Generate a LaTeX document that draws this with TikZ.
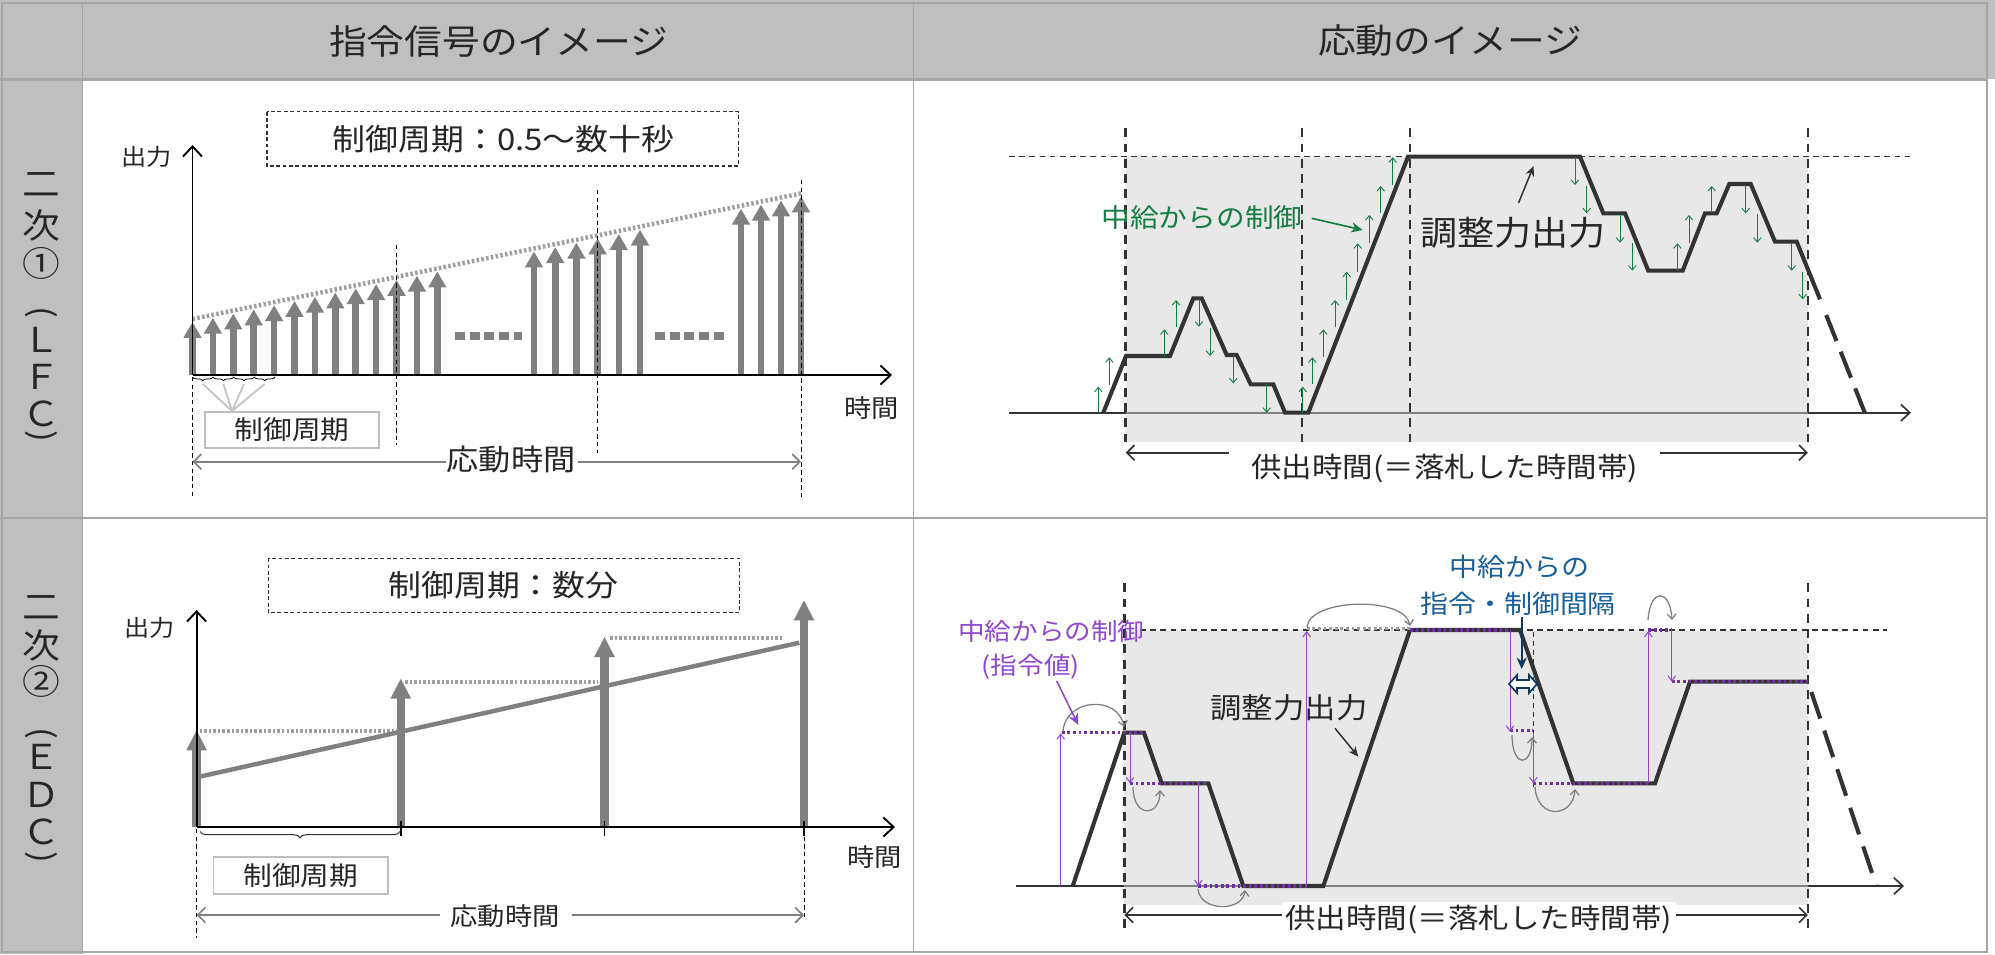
\documentclass[tikz,border=0pt]{standalone}
\usepackage{fontspec}
\setmainfont[FakeStretch=1.1]{Noto Sans CJK JP}
\usetikzlibrary{arrows.meta,decorations.pathreplacing}
\definecolor{hdr}{HTML}{BFBFBF}
\definecolor{gridc}{HTML}{A6A6A6}
\definecolor{agray}{HTML}{808080}
\definecolor{dgray}{HTML}{A0A0A0}
\definecolor{shadec}{HTML}{E8E8E8}
\definecolor{ink}{HTML}{333333}
\definecolor{txt}{HTML}{262626}
\definecolor{ggreen}{RGB}{20,125,65}
\definecolor{ppurple}{RGB}{145,70,210}
\definecolor{dpurple}{RGB}{112,48,160}
\definecolor{bblue}{RGB}{25,95,155}
\definecolor{navyc}{RGB}{15,55,95}
\newcommand{\fsz}[1]{\fontsize{#1}{#1}\selectfont}
\begin{document}
\begin{tikzpicture}[x=0.785965pt,y=-0.785965pt,
  lbl/.style={inner sep=0pt,text=txt},
  dbox/.style={draw=ink,line width=0.8pt,dash pattern=on 3pt off 2pt},
  cbox/.style={draw=hdr,line width=1.3pt},
  axis/.style={black,line width=1.5pt,-{Straight Barb[width=15pt,length=8pt]}},
  sigarrow/.style={agray,line width=5.2pt,-{Triangle[width=13.5pt,length=12.5pt]}},
  bigarrow/.style={agray,line width=6.5pt,-{Triangle[width=15pt,length=16pt]}},
  thinvdash/.style={black,line width=0.8pt,dash pattern=on 3.5pt off 2.5pt},
  vdash/.style={ink,line width=2pt,dash pattern=on 7pt off 5pt},
  hdash/.style={ink,line width=1.1pt,dash pattern=on 4.5pt off 3.5pt},
  outl/.style={ink,line width=3.2pt,line join=miter},
  garr/.style={ggreen,line width=0.7pt,-{Straight Barb[width=6pt,length=3.5pt]}},
  parr/.style={ppurple,line width=0.8pt,-{Straight Barb[width=6pt,length=4pt]}},
  pdot/.style={dpurple,line width=2.4pt,dash pattern=on 2.2pt off 2.2pt},
  carr/.style={agray,line width=1pt,-{Straight Barb[width=7pt,length=4pt]}},
  spanarr/.style={line width=1.3pt,-{Straight Barb[width=12pt,length=6pt]}}]
\useasboundingbox (0,0) rectangle (1995,954);
\fill[white] (0,0) rectangle (1995,954);
% ---------- table ----------
\fill[hdr] (0,0) rectangle (1995,79.4);
\fill[hdr] (0,79.4) rectangle (82.7,954);
\draw[gridc,line width=1.6pt] (2,3) rectangle (1987,952);
\draw[gridc,line width=1.8pt] (0,79.4) -- (1987,79.4);
\draw[gridc,line width=1.6pt] (0,518.3) -- (1987,518.3);
\draw[gridc,line width=1.2pt] (82.7,3) -- (82.7,952);
\draw[gridc,line width=1.2pt] (913.5,3) -- (913.5,952);
\node[lbl,font=\fsz{27}] (h1) at (498.7,41) {指令信号のイメージ};
\node[lbl,font=\fsz{27}] (h2) at (1450,41) {応動のイメージ};
\foreach \c/\yy [count=\i] in {二/185,次/225,①/263.5,Ｌ/340,Ｆ/377,Ｃ/413.5}
  \node[lbl,font=\fsz{27}] (va\i) at (41,\yy) {\c};
\node[lbl,font=\fsz{25},rotate=-90] (vap1) at (41,312) {(};
\node[lbl,font=\fsz{25},rotate=-90] (vap2) at (41,436) {)};
\foreach \c/\yy [count=\i] in {二/608,次/645,②/681.7,Ｅ/756.7,Ｄ/795,Ｃ/831.7}
  \node[lbl,font=\fsz{27}] (vb\i) at (41,\yy) {\c};
\node[lbl,font=\fsz{25},rotate=-90] (vbp1) at (41,733) {(};
\node[lbl,font=\fsz{25},rotate=-90] (vbp2) at (41,857) {)};
% ---------- LFC command ----------
\draw[dbox] (267,111.7) rectangle (738.3,166);
\node[lbl,font=\fsz{23.5}] (c1) at (503.5,139) {制御周期：0.5～数十秒};
\foreach \x in {192.5,212.9,...,437.5,534,555.2,...,641,741,761,...,802}{
  \pgfmathsetmacro\ty{322-0.2064*(\x-192.5)}
  \draw[sigarrow] (\x,375) -- (\x,\ty);
}
\draw[dgray,line width=3.5pt,dash pattern=on 2pt off 1.8pt] (192.5,319) -- (803,193);
\draw[agray,line width=6pt,dash pattern=on 8pt off 3.5pt] (455,336) -- (522,336);
\draw[agray,line width=6pt,dash pattern=on 8pt off 3.5pt] (655,336) -- (725,336);
\coordinate (o1) at (192.5,375);
\coordinate (y1) at (192.5,145);
\coordinate (x1) at (892,375);
\draw[axis] (o1) -- (y1);
\draw[axis] (o1) -- (x1);
\node[lbl,font=\fsz{18}] (out1) at (146.7,157) {出力};
\node[lbl,font=\fsz{19.5}] (t1) at (871.5,408) {時間};
\foreach \a/\b in {192.5/213.1,213.1/233.7,233.7/254.3,254.3/275}
  \draw[decorate,decoration={brace,amplitude=3pt,mirror},line width=0.6pt] (\a,377) -- (\b,377);
\node[lbl,cbox,minimum width=137pt,minimum height=28.5pt] (cb1) at (292,430) {};
\node[lbl,font=\fsz{20.5}] (cbt1) at (292,430) {制御周期};
\coordinate (cv) at (232,411);
\foreach \x in {202.8,223.4,244,264.6}
  \draw[black!22,line width=1.5pt] (\x,384) -- (cv);
\draw[thinvdash] (192.5,377) -- (192.5,497);
\draw[thinvdash] (396.5,245) -- (396.5,445);
\draw[thinvdash] (597.6,190) -- (597.6,453);
\draw[thinvdash] (801,180) -- (801,498);
\node[lbl,font=\fsz{23}] (rt1) at (511,459) {応動時間};
\draw[agray,spanarr] (446,461.7) -- (192.5,461.7);
\draw[agray,spanarr] (578,461.7) -- (801,461.7);
% ---------- EDC command ----------
\draw[dbox] (268.2,558.3) rectangle (739.4,612.7);
\node[lbl,font=\fsz{23.5}] (c2) at (503.5,585) {制御周期：数分};
\draw[bigarrow] (196.6,827) -- (196.6,730);
\draw[bigarrow] (400.8,827) -- (400.8,678.3);
\draw[bigarrow] (604.5,827) -- (604.5,636.7);
\draw[bigarrow] (804,827) -- (804,600);
\draw[dgray,line width=3pt,dash pattern=on 2pt off 1.6pt] (199.5,731) -- (398,731);
\draw[dgray,line width=3pt,dash pattern=on 2pt off 1.6pt] (405,682.3) -- (598,682.3);
\draw[dgray,line width=3pt,dash pattern=on 2pt off 1.6pt] (610.3,638.3) -- (783.5,638.3);
\draw[agray,line width=3.5pt] (199.5,776.7) -- (799.3,642.7);
\coordinate (o2) at (196.6,827);
\coordinate (y2) at (196.6,610);
\coordinate (x2) at (895,827);
\draw[axis] (o2) -- (y2);
\draw[axis] (o2) -- (x2);
\foreach \x in {400.8,604.5,804}
  \draw[black,line width=1.2pt] (\x,821) -- (\x,836);
\node[lbl,font=\fsz{18}] (out2) at (149.6,628.3) {出力};
\node[lbl,font=\fsz{19.5}] (t2) at (874.4,856.7) {時間};
\draw[decorate,decoration={brace,amplitude=5pt,mirror},line width=0.8pt,ink] (200,831.5) -- (400,831.5);
\node[lbl,cbox,minimum width=137pt,minimum height=29pt] (cb2) at (300.8,875.7) {};
\node[lbl,font=\fsz{20.5}] (cbt2) at (300.8,875.7) {制御周期};
\draw[thinvdash] (196.6,829) -- (196.6,938);
\draw[thinvdash] (804,829) -- (804,920);
\node[lbl,font=\fsz{19.5}] (rt2) at (505,916) {応動時間};
\draw[agray,spanarr] (440,915) -- (196.6,915);
\draw[agray,spanarr] (572,915) -- (804,915);
% ---------- LFC response ----------
\fill[shadec] (1125.7,156.7) rectangle (1807.8,441.7);
\draw[ink,line width=1.3pt] (1009,412.7) -- (1125.7,412.7);
\draw[agray,line width=1.3pt] (1125.7,412.7) -- (1807.8,412.7);
\draw[ink,line width=1.3pt,-{Straight Barb[width=13pt,length=7pt]}] (1807.8,412.7) -- (1911,412.7);
\draw[hdash] (1009,156.7) -- (1911,156.7);
\foreach \x in {1125.7,1302,1410.2,1807.8}
  \draw[vdash] (\x,128.3) -- (\x,441.7);
\draw[outl] (1103.3,412.7) -- (1126,356) -- (1170,356) -- (1193.3,298.3) -- (1201.7,298.3)
  -- (1226.7,355) -- (1236.7,355) -- (1250.7,384.3) -- (1273.3,384.3) -- (1285,412.7)
  -- (1308.3,412.7) -- (1408,156.7) -- (1580,156.7) -- (1603.3,213.3) -- (1625,213.3)
  -- (1648.3,270.7) -- (1682.7,270.7) -- (1705,213.3) -- (1716.7,213.3) -- (1729.3,184)
  -- (1750.7,184) -- (1775,241.7) -- (1796.7,241.7) -- (1820,299.3);
\draw[outl,dash pattern=on 22pt off 9pt] (1826.2,315) -- (1865,413.3);
\foreach \x/\a/\b in {1098.3/412.7/386.7,1109.3/385/357.3,1164.3/356.7/329.3,1176/327.3/300,
  1302.7/412.7/386.7,1312.3/384/357.3,1323.3/356.7/329.3,1335/327.3/300,1346.7/300/271.7,
  1357.7/271.7/243.3,1369.3/242.7/215,1380.7/213.3/186,1392.7/185/157.3,
  1677.3/270.7/243.3,1689/242.7/215,1711.7/213.3/186,
  1199/299.3/326.7,1210/328.3/356,1233.3/355/383.3,1266.7/384.3/412.7,
  1575/157.3/185,1586.7/186/213.3,1620/214/242.7,1632.3/242.7/270.7,
  1745.7/185/213.3,1757.3/214.3/242.7,1791.7/242.7/270.7,1802.7/271.7/299.3}
  \draw[garr] (\x,\a) -- (\x,\b);
\node[lbl,text=ggreen,font=\fsz{20.5}] (gt) at (1202,218) {中給からの制御};
\coordinate (gs) at (1311.7,218.3);
\coordinate (ge) at (1362.7,230);
\draw[ggreen,line width=1.3pt,-{Stealth[width=8pt,length=9pt]}] (gs) -- (ge);
\node[lbl,font=\fsz{26.5}] (adj1) at (1513,233) {調整力出力};
\coordinate (as1) at (1518.5,203);
\coordinate (ae1) at (1533.6,166);
\draw[ink,line width=1.2pt,-{Stealth[width=7pt,length=8pt]}] (as1) -- (ae1);
\node[lbl,font=\fsz{21.8}] (sp1) at (1444.5,469) {供出時間(＝落札した時間帯)};
\draw[ink,spanarr] (1228.5,452.7) -- (1125.7,452.7);
\draw[ink,spanarr] (1660.4,452.7) -- (1807.8,452.7);
% ---------- EDC response ----------
\fill[shadec] (1124.3,630) rectangle (1807.9,905);
\draw[ink,line width=1.3pt] (1016,886) -- (1124.3,886);
\draw[agray,line width=1.3pt] (1124.3,886) -- (1807.9,886);
\draw[ink,line width=1.3pt,-{Straight Barb[width=13pt,length=7pt]}] (1807.9,886) -- (1904,886);
\draw[hdash] (1140,630) -- (1887,630);
\draw[vdash] (1124.3,583.3) -- (1124.3,931.7);
\draw[vdash] (1807.9,583.3) -- (1807.9,931.7);
\draw[navyc,line width=1pt,dash pattern=on 4pt off 3pt] (1533.3,632) -- (1533.3,787);
\draw[outl] (1072.7,886) -- (1124.3,732.7) -- (1144,732.7) -- (1161.7,783.3) -- (1208.3,783.3)
  -- (1243.3,886) -- (1323.3,886) -- (1410,630) -- (1520,630) -- (1573.3,783.3)
  -- (1655,783.3) -- (1690,681.7) -- (1807.9,681.7);
\draw[outl,dash pattern=on 22pt off 10pt] (1811.3,692) -- (1876.4,886);
\draw[pdot] (1061.7,732.7) -- (1144,732.7);
\draw[pdot] (1130,783.3) -- (1208.3,783.3);
\draw[pdot] (1198.3,886) -- (1306.7,886);
\draw[dgray,line width=2.4pt,dash pattern=on 2.2pt off 2.2pt] (1306.7,628.3) -- (1410,628.3);
\draw[pdot] (1410,630) -- (1510,630);
\draw[pdot] (1510,730.7) -- (1533.3,730.7);
\draw[pdot] (1533.3,783.3) -- (1648.3,783.3);
\draw[pdot] (1648.3,630) -- (1671.7,630);
\draw[pdot] (1671.7,681.7) -- (1807.9,681.7);
\draw[parr] (1060.7,886) -- (1060.7,733.3);
\draw[parr] (1306.7,886) -- (1306.7,631);
\draw[parr] (1648.3,783.3) -- (1648.3,631);
\draw[parr] (1130,733.3) -- (1130,783.3);
\draw[parr] (1198.3,783.3) -- (1198.3,886);
\draw[parr] (1510,630) -- (1510,731.7);
\draw[parr] (1533.3,733.3) -- (1533.3,783.3);
\draw[parr] (1671.7,630) -- (1671.7,681.7);
\draw[carr] (1063,731) .. controls (1066,698) and (1118,695) .. (1124,727);
\draw[carr] (1133,787) .. controls (1133,818) and (1160,818) .. (1160,790);
\draw[carr] (1198,889) .. controls (1200,912) and (1243,912) .. (1245,890);
\draw[carr] (1307,627) .. controls (1310,598) and (1405,596) .. (1410,626);
\draw[carr] (1512,735) .. controls (1512,768) and (1532,768) .. (1532,737);
\draw[carr] (1535,787) .. controls (1537,820) and (1573,818) .. (1575,789);
\draw[carr] (1648,620) .. controls (1650,588) and (1670,588) .. (1672,620);
\node[lbl,text=ppurple,font=\fsz{19}] (pt1) at (1051.3,631.7) {中給からの制御};
\node[lbl,text=ppurple,font=\fsz{19}] (pt2) at (1030.8,666.7) {(指令値)};
\coordinate (ps) at (1056.7,681);
\coordinate (pe) at (1078.3,725);
\draw[ppurple,line width=1.2pt,-{Stealth[width=8pt,length=9pt]}] (ps) -- (pe);
\node[lbl,font=\fsz{22.4}] (adj2) at (1289,708) {調整力出力};
\coordinate (as2) at (1335,728.3);
\coordinate (ae2) at (1358.3,756.7);
\draw[ink,line width=1.2pt,-{Stealth[width=7pt,length=8pt]}] (as2) -- (ae2);
\node[lbl,text=bblue,font=\fsz{20}] (bt1) at (1519,566.7) {中給からの};
\node[lbl,text=bblue,font=\fsz{20}] (bt2) at (1518,604) {指令・制御間隔};
\coordinate (ns) at (1521.7,617);
\coordinate (ne) at (1521.7,669);
\draw[navyc,line width=1.5pt,-{Stealth[width=8pt,length=9pt]}] (ns) -- (ne);
\draw[navyc,line width=1.3pt,fill=white] (1509,684) -- (1517,675) -- (1517,680) -- (1529,680)
  -- (1529,675) -- (1537,684) -- (1529,693) -- (1529,688) -- (1517,688) -- (1517,693) -- cycle;
\draw[ink,spanarr] (1300,915) -- (1124.3,915);
\draw[ink,spanarr] (1660,915) -- (1807.9,915);
\node[lbl,fill=white,inner xsep=3pt,inner ysep=3pt,font=\fsz{21.8}] (sp2) at (1478.8,920) {供出時間(＝落札した時間帯)};
\end{tikzpicture}
\end{document}
